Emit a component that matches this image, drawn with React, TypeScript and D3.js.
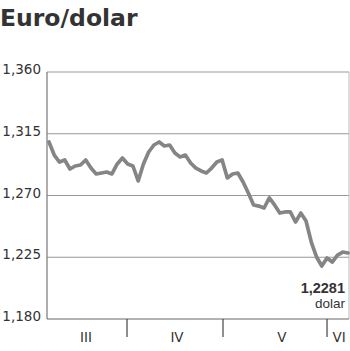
import React from "react";
import * as d3 from "d3";

const title = "Euro/dolar";
const values = [
  1.309, 1.2995, 1.2944, 1.2959, 1.2893, 1.2915, 1.2922, 1.2959, 1.29, 1.2857,
  1.2864, 1.2871, 1.2857, 1.293, 1.2973, 1.293, 1.2915, 1.2806, 1.293, 1.3017,
  1.3068, 1.309, 1.3061, 1.3068, 1.301, 1.2981, 1.2995, 1.2937, 1.29, 1.2879,
  1.2864, 1.29, 1.2944, 1.2959, 1.2828, 1.2857, 1.2864, 1.2798, 1.2718, 1.2631,
  1.2623, 1.2609, 1.2682, 1.2631, 1.2572, 1.258, 1.258, 1.2507, 1.2572, 1.2514,
  1.2361, 1.2252, 1.2186, 1.2245, 1.2215, 1.2266, 1.2288, 1.2281,
];
const yTicks = [1.18, 1.225, 1.27, 1.315, 1.36];
const monthBoundaries = [14.87, 33.17, 53.0];
const monthLabels = ["III", "IV", "V", "VI"];
const monthLabelPos = [7.05, 24.4, 44.4, 55.3];
const lastValueLabel = "1,2281";
const unitLabel = "dolar";

const fmt = (v: number) => v.toFixed(3).replace(".", ",");

export default function App() {
  const W = 350, H = 351;
  const left = 47, right = 349, top = 72, bottom = 319;
  const x = d3.scaleLinear().domain([0, values.length - 1]).range([49, 348]);
  const y = d3.scaleLinear().domain([1.18, 1.36]).range([bottom, top]);
  const line = d3
    .line<number>()
    .x((_, i) => x(i))
    .y((d) => y(d))
    .curve(d3.curveLinear);

  return (
    <svg
      width={W}
      height={H}
      style={{ position: "absolute", left: 0, top: 0, background: "#fff" }}
    >
      <text
        x={0}
        y={26}
        fontFamily="DejaVu Sans"
        fontWeight="bold"
        fontSize={23.5}
        fill="#333"
      >
        {title}
      </text>
      {yTicks.map((t) => (
        <g key={t}>
          {t !== 1.18 && (
            <line
              x1={left}
              x2={right}
              y1={y(t)}
              y2={y(t)}
              stroke="#999"
              strokeWidth={1.2}
            />
          )}
          <text
            x={41}
            y={y(t) + 2}
            textAnchor="end"
            fontFamily="DejaVu Sans"
            fontSize={13.5}
            fill="#333"
          >
            {fmt(t)}
          </text>
        </g>
      ))}
      <line x1={right} x2={right} y1={top} y2={bottom} stroke="#bbb" strokeWidth={1} />
      <line x1={left} x2={left} y1={top} y2={bottom} stroke="#777" strokeWidth={1.2} />
      <line x1={left} x2={right} y1={bottom} y2={bottom} stroke="#666" strokeWidth={1.2} />
      {monthBoundaries.map((b) => (
        <line
          key={b}
          x1={x(b)}
          x2={x(b)}
          y1={bottom}
          y2={bottom + 18}
          stroke="#444"
          strokeWidth={1.2}
        />
      ))}
      {monthLabels.map((m, i) => (
        <text
          key={m}
          x={x(monthLabelPos[i])}
          y={342}
          textAnchor="middle"
          fontFamily="DejaVu Sans"
          fontSize={13.5}
          fill="#333"
        >
          {m}
        </text>
      ))}
      <path
        d={line(values) || ""}
        fill="none"
        stroke="#858585"
        strokeWidth={3.7}
        strokeLinejoin="round"
        strokeLinecap="round"
      />
      <text
        x={345}
        y={293}
        textAnchor="end"
        fontFamily="Liberation Sans"
        fontWeight="bold"
        fontSize={14.5}
        fill="#333"
      >
        {lastValueLabel}
      </text>
      <text
        x={345}
        y={307.5}
        textAnchor="end"
        fontFamily="Liberation Sans"
        fontSize={13.5}
        fill="#333"
      >
        {unitLabel}
      </text>
    </svg>
  );
}
